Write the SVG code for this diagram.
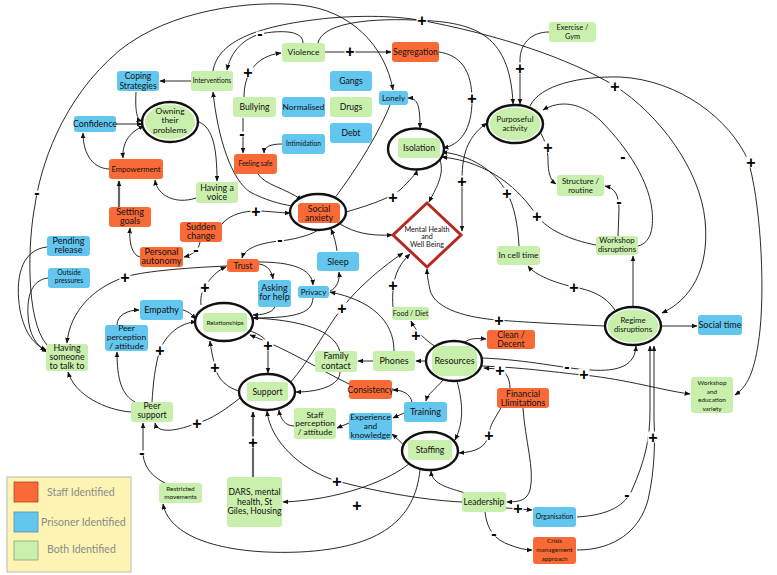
<svg xmlns="http://www.w3.org/2000/svg" width="777" height="575" viewBox="0 0 777 575">
<defs>
<marker id="ah" viewBox="0 0 10 10" refX="9" refY="5" markerWidth="6" markerHeight="6" markerUnits="userSpaceOnUse" orient="auto-start-reverse"><path d="M0,1 L10,5 L0,9 z" fill="#111"/></marker>
</defs>
<style>
.c{fill:none;stroke:#111;stroke-width:0.9;marker-end:url(#ah)}
.d{marker-start:url(#ah)}
.t{fill:none;stroke:#666;stroke-width:2.2;marker-end:url(#ah)}
.o{fill:#fa6a37}
.b{fill:#63c6ef}
.g{fill:#c9efac}
.ring{fill:#fff;stroke:#111;stroke-width:2.4}
.gap{fill:#fff}
text{font-family:Lato,"Open Sans","Liberation Sans",sans-serif;fill:#111;text-anchor:middle}
.s{font-family:"Liberation Sans",Arial,sans-serif;font-size:16px;font-weight:bold;fill:#000}
.lg{font-size:10.5px;fill:#8a8a8a;text-anchor:start}
</style>
<rect width="777" height="575" fill="#fff"/>
<g id="connectors">
<path class="c" d="M191,81 L160,81"/>
<path class="c" d="M136,92 C135,112 137,120 142,121"/>
<path class="c" d="M116,124 L142,124"/>
<path class="c d" d="M144,126 C128,132 122,145 123,158"/>
<path class="c" d="M109,169 C90,168 83,150 83,133"/>
<path class="c" d="M196,121 C212,125 217,145 217,181"/>
<path class="c" d="M196,198 C175,205 157,195 155,180"/>
<path class="t" d="M119,207 L119,181"/>
<path class="c" d="M140,257 C131,255 129,240 130,228"/>
<path class="c" d="M200,242 C199,250 192,255 184,257"/>
<path class="c" d="M222,224 C230,214 245,211 256,211 C270,211 280,213 290,213"/>
<path class="c" d="M292,206 C280,204 265,200 250,192 C232,180 218,140 213,92"/>
<path class="c" d="M258,174 C265,185 285,188 302,200"/>
<path class="c" d="M282,144 C270,144 264,147 264,153"/>
<path class="c" d="M243,118 L243,153"/>
<path class="c" d="M244,97 C244,75 255,56 281,53"/>
<path class="c" d="M325,52 L391,52"/>
<path class="c" d="M303,43 C303,30 280,30 260,34 C240,40 230,55 227,70"/>
<path class="c" d="M318,43 C322,25 360,18 415,20 C470,22 510,30 513,104"/>
<path class="c" d="M213,71 C218,40 260,25 330,18 C380,14 410,18 430,22 C520,40 580,65 615,86 C660,115 700,170 705,220 C710,270 690,300 662,313"/>
<path class="c" d="M549,32 C530,32 520,45 520,60 L520,104"/>
<path class="c" d="M47,345 C25,320 28,240 35,205 C40,170 60,100 120,50 C170,10 250,0 300,5 C350,10 385,45 393,90"/>
<path class="c" d="M390,105 C380,130 360,165 331,203"/>
<path class="c d" d="M408,98 C418,98 420,106 420,128"/>
<path class="c" d="M439,52 C460,55 472,70 472,100 C472,130 460,145 443,148"/>
<path class="c" d="M440,160 C445,175 435,190 429,202"/>
<path class="c" d="M346,212 C370,205 390,198 400,190 C410,180 416,174 417,170"/>
<path class="c" d="M340,224 C355,233 370,236 392,235"/>
<path class="c d" d="M487,123 C470,135 462,150 462,180 L462,231"/>
<path class="c" d="M540,132 C545,140 548,150 548,160 C548,172 550,180 556,184"/>
<path class="c" d="M618,236 L619,210 C619,195 615,188 605,186"/>
<path class="c" d="M638,246 C650,243 654,230 652,210 C648,175 620,140 600,120 C580,102 560,100 543,110"/>
<path class="c" d="M530,106 C540,85 580,76 620,77 C680,80 730,120 748,160 C760,200 765,280 760,330 C756,365 750,385 735,395"/>
<path class="c" d="M519,246 C518,225 514,205 507,193 C495,170 470,155 442,152"/>
<path class="c" d="M596,245 C570,240 548,230 537,216 C520,190 490,162 442,157"/>
<path class="c" d="M615,310 C605,295 590,290 574,287 C555,283 535,275 528,266"/>
<path class="c" d="M633,307 L633,256"/>
<path class="c" d="M661,326 L697,326"/>
<path class="c" d="M605,326 C560,324 520,322 498,320 C470,318 435,310 430,290 C428,280 427,275 427,269"/>
<path class="c" d="M482,358 C530,360 560,368 590,370 C620,372 635,365 636,346"/>
<path class="c" d="M482,366 C530,368 560,373 584,375 C630,380 660,390 690,394"/>
<path class="c" d="M510,388 C510,378 505,370 498,369 L484,368"/>
<path class="c" d="M462,346 C466,338 475,338 486,339"/>
<path class="c" d="M436,347 C425,340 415,330 411,321"/>
<path class="c" d="M393,307 C392,295 393,280 398,270 C402,262 406,258 410,254"/>
<path class="c" d="M426,361 L416,361"/>
<path class="c" d="M373,361 L358,361"/>
<path class="c" d="M394,351 C394,320 370,300 330,292"/>
<path class="c" d="M443,380 C435,390 428,393 426,401"/>
<path class="c" d="M457,381 C462,400 465,420 455,440"/>
<path class="c" d="M412,402 C410,394 403,390 393,390"/>
<path class="c" d="M404,413 L393,418"/>
<path class="c" d="M405,446 C400,442 397,438 392,434"/>
<path class="c" d="M349,423 L337,428"/>
<path class="c" d="M294,426 C285,426 280,418 279,410"/>
<path class="c" d="M501,408 C495,418 490,425 489,434 C486,448 475,452 459,453"/>
<path class="c" d="M523,408 C525,440 535,470 530,490 C527,500 520,502 507,502"/>
<path class="c" d="M465,493 C450,488 432,485 431,471"/>
<path class="c" d="M462,502 C420,500 370,490 337,481 C300,470 270,440 267,411"/>
<path class="c" d="M410,463 C390,480 340,500 283,502"/>
<path class="c" d="M420,470 C415,520 380,548 300,552 C230,555 170,540 163,504"/>
<path class="c" d="M165,483 C155,478 145,470 143,455 L143,423"/>
<path class="c" d="M240,398 C225,410 210,420 197,423 C180,430 158,435 155,423"/>
<path class="t" d="M253,477 L253,412"/>
<path class="c" d="M131,412 C105,410 75,395 68,372"/>
<path class="c" d="M135,402 C122,395 117,380 117,352"/>
<path class="c" d="M152,402 C153,385 155,365 160,350 C168,330 185,322 196,322"/>
<path class="c" d="M117,325 C117,315 128,310 139,310"/>
<path class="c" d="M183,310 C190,312 193,316 196,319"/>
<path class="c" d="M201,305 C200,295 203,290 205,287 C210,278 218,270 226,267"/>
<path class="c" d="M239,391 C228,388 218,380 215,367 C213,358 211,350 210,341"/>
<path class="c" d="M248,330 C262,335 267,340 268,345 L268,373"/>
<path class="c" d="M349,384 C320,370 290,350 250,335"/>
<path class="c" d="M253,318 C300,320 335,330 340,352 L340,372 C340,385 320,392 296,392"/>
<path class="c" d="M313,298 C312,312 300,318 253,318"/>
<path class="c" d="M275,307 C272,313 262,315 253,315"/>
<path class="c" d="M259,264 C268,265 272,272 273,279"/>
<path class="c" d="M259,262 C290,262 312,268 313,285"/>
<path class="c" d="M227,266 C180,268 140,272 125,277 C95,287 70,310 67,343"/>
<path class="c" d="M318,230 C310,236 290,240 280,241 C260,243 245,248 242,258"/>
<path class="c" d="M337,251 C336,243 334,236 331,229"/>
<path class="c" d="M330,291 C337,288 340,280 339,272"/>
<path class="c" d="M290,383 C310,360 325,330 342,308 C360,285 385,265 403,253"/>
<path class="c" d="M47,247 C20,250 15,280 20,310 C25,335 35,345 46,350"/>
<path class="c" d="M48,278 C32,280 27,295 28,315 C29,335 36,345 47,352"/>
<path class="c" d="M506,508 L532,510"/>
<path class="c" d="M485,512 C487,530 495,540 510,545 C518,548 525,550 532,550"/>
<path class="c" d="M577,517 C610,515 625,505 632,490 C645,460 650,440 650,410 L650,346"/>
<path class="c" d="M577,550 C615,550 640,530 648,500 C655,470 655,440 654,420 L654,346"/>
</g>
<g id="signs">
<rect class="gap" x="33" y="190.5" width="8" height="5"/><text class="s" x="37" y="197.6">-</text>
<rect class="gap" x="416.5" y="14.5" width="11" height="11"/><text class="s" x="422" y="25.6">+</text>
<rect class="gap" x="256" y="31.5" width="8" height="5"/><text class="s" x="260" y="38.6">-</text>
<rect class="gap" x="242.5" y="66.5" width="11" height="11"/><text class="s" x="248" y="77.6">+</text>
<rect class="gap" x="344.5" y="45.5" width="11" height="11"/><text class="s" x="350" y="56.6">+</text>
<rect class="gap" x="238" y="131.5" width="8" height="5"/><text class="s" x="242" y="138.6">-</text>
<rect class="gap" x="466.5" y="92.5" width="11" height="11"/><text class="s" x="472" y="103.6">+</text>
<rect class="gap" x="514.5" y="62.5" width="11" height="11"/><text class="s" x="520" y="73.6">+</text>
<rect class="gap" x="609.5" y="80.5" width="11" height="11"/><text class="s" x="615" y="91.6">+</text>
<rect class="gap" x="619" y="154.5" width="8" height="5"/><text class="s" x="623" y="161.6">-</text>
<rect class="gap" x="745.5" y="156.5" width="11" height="11"/><text class="s" x="751" y="167.6">+</text>
<rect class="gap" x="542.5" y="141.5" width="11" height="11"/><text class="s" x="548" y="152.6">+</text>
<rect class="gap" x="615" y="199.5" width="8" height="5"/><text class="s" x="619" y="206.6">-</text>
<rect class="gap" x="501.5" y="187.5" width="11" height="11"/><text class="s" x="507" y="198.6">+</text>
<rect class="gap" x="531.5" y="210.5" width="11" height="11"/><text class="s" x="537" y="221.6">+</text>
<rect class="gap" x="456.5" y="175.5" width="11" height="11"/><text class="s" x="462" y="186.6">+</text>
<rect class="gap" x="387.5" y="191.5" width="11" height="11"/><text class="s" x="393" y="202.6">+</text>
<rect class="gap" x="250.5" y="205.5" width="11" height="11"/><text class="s" x="256" y="216.6">+</text>
<rect class="gap" x="192" y="247.5" width="8" height="5"/><text class="s" x="196" y="254.6">-</text>
<rect class="gap" x="276" y="237.5" width="8" height="5"/><text class="s" x="280" y="244.6">-</text>
<rect class="gap" x="119.5" y="271.5" width="11" height="11"/><text class="s" x="125" y="282.6">+</text>
<rect class="gap" x="199.5" y="281.5" width="11" height="11"/><text class="s" x="205" y="292.6">+</text>
<rect class="gap" x="568.5" y="281.5" width="11" height="11"/><text class="s" x="574" y="292.6">+</text>
<rect class="gap" x="493.5" y="314.5" width="11" height="11"/><text class="s" x="499" y="325.6">+</text>
<rect class="gap" x="387.5" y="279.5" width="11" height="11"/><text class="s" x="393" y="290.6">+</text>
<rect class="gap" x="336.5" y="302.5" width="11" height="11"/><text class="s" x="342" y="313.6">+</text>
<rect class="gap" x="410.5" y="329.5" width="11" height="11"/><text class="s" x="416" y="340.6">+</text>
<rect class="gap" x="154.5" y="344.5" width="11" height="11"/><text class="s" x="160" y="355.6">+</text>
<rect class="gap" x="209.5" y="361.5" width="11" height="11"/><text class="s" x="215" y="372.6">+</text>
<rect class="gap" x="262.5" y="339.5" width="11" height="11"/><text class="s" x="268" y="350.6">+</text>
<rect class="gap" x="563" y="364.5" width="8" height="5"/><text class="s" x="567" y="371.6">-</text>
<rect class="gap" x="578.5" y="368.5" width="11" height="11"/><text class="s" x="584" y="379.6">+</text>
<rect class="gap" x="494.5" y="364.5" width="11" height="11"/><text class="s" x="500" y="375.6">+</text>
<rect class="gap" x="483.5" y="429.5" width="11" height="11"/><text class="s" x="489" y="440.6">+</text>
<rect class="gap" x="191.5" y="417.5" width="11" height="11"/><text class="s" x="197" y="428.6">+</text>
<rect class="gap" x="138" y="450.5" width="8" height="5"/><text class="s" x="142" y="457.6">-</text>
<rect class="gap" x="247.5" y="436.5" width="11" height="11"/><text class="s" x="253" y="447.6">+</text>
<rect class="gap" x="331.5" y="475.5" width="11" height="11"/><text class="s" x="337" y="486.6">+</text>
<rect class="gap" x="351.5" y="499.5" width="11" height="11"/><text class="s" x="357" y="510.6">+</text>
<rect class="gap" x="512.5" y="502.5" width="11" height="11"/><text class="s" x="518" y="513.6">+</text>
<rect class="gap" x="490" y="531.5" width="8" height="5"/><text class="s" x="494" y="538.6">-</text>
<rect class="gap" x="623" y="492.5" width="8" height="5"/><text class="s" x="627" y="499.6">-</text>
<rect class="gap" x="647.5" y="431.5" width="11" height="11"/><text class="s" x="653" y="442.6">+</text>
</g>
<g id="n-coping"><rect class="b" x="117" y="71" width="42" height="20" rx="3"/><text font-size="8.6" x="138"><tspan y="79.3">Coping</tspan><tspan x="138" y="88.5">Strategies</tspan></text></g>
<g id="n-interventions"><rect class="g" x="191" y="71" width="42" height="20" rx="3"/><text font-size="6.6" x="212" y="83.3">Interventions</text></g>
<g id="n-violence"><rect class="g" x="282" y="43" width="43" height="19" rx="3"/><text font-size="8.4" x="303.5" y="55.4">Violence</text></g>
<g id="n-segregation"><rect class="o" x="392" y="42" width="47" height="20" rx="3"/><text font-size="8.6" x="415.5" y="55">Segregation</text></g>
<g id="n-exercise"><rect class="g" x="549" y="22" width="47" height="20" rx="3"/><text font-size="7.4" x="572.5"><tspan y="30">Exercise /</tspan><tspan x="572.5" y="38.8">Gym</tspan></text></g>
<g id="n-bullying"><rect class="g" x="233" y="97" width="43" height="20" rx="3"/><text font-size="8.6" x="254.5" y="110">Bullying</text></g>
<g id="n-normalised"><rect class="b" x="282" y="97" width="43" height="20" rx="3"/><text font-size="8.4" x="303.5" y="110">Normalised</text></g>
<g id="n-gangs"><rect class="b" x="330" y="71" width="42" height="20" rx="3"/><text font-size="8.6" x="351" y="84">Gangs</text></g>
<g id="n-drugs"><rect class="g" x="330" y="97" width="42" height="20" rx="3"/><text font-size="8.6" x="351" y="110">Drugs</text></g>
<g id="n-debt"><rect class="b" x="330" y="123" width="42" height="20" rx="3"/><text font-size="8.6" x="351" y="136">Debt</text></g>
<g id="n-lonely"><rect class="b" x="379" y="91" width="29" height="14" rx="3"/><text font-size="8" x="393.5" y="100.8">Lonely</text></g>
<g id="n-intimidation"><rect class="b" x="282" y="134" width="43" height="20" rx="3"/><text font-size="6.6" x="303.5" y="146.3">Intimidation</text></g>
<g id="n-feelingsafe"><rect class="o" x="234" y="154" width="43" height="20" rx="3"/><text font-size="6.6" x="255.5" y="166.3">Feeling safe</text></g>
<g id="n-confidence"><rect class="b" x="74" y="116" width="42" height="16" rx="3"/><text font-size="8.8" x="95" y="127">Confidence</text></g>
<g id="n-owning"><ellipse class="ring" cx="170" cy="122" rx="28" ry="20"/><ellipse class="g" cx="170" cy="122" rx="25" ry="17.5"/><text font-size="8.4" x="170"><tspan y="113.8">Owning</tspan><tspan x="170" y="123.3">their</tspan><tspan x="170" y="132.8">problems</tspan></text></g>
<g id="n-empowerment"><rect class="o" x="109" y="159" width="54" height="20" rx="3"/><text font-size="7.6" x="136" y="171.6">Empowerment</text></g>
<g id="n-havingvoice"><rect class="g" x="196" y="182" width="42" height="21" rx="3"/><text font-size="8.8" x="217"><tspan y="190.5">Having a</tspan><tspan x="217" y="200.3">voice</tspan></text></g>
<g id="n-isolation"><ellipse class="ring" cx="416" cy="149" rx="28" ry="20.5"/><rect class="g" x="398" y="138" width="42" height="20" rx="3"/><text font-size="8.6" x="419" y="151">Isolation</text></g>
<g id="n-purposeful"><ellipse class="ring" cx="515" cy="124" rx="28" ry="19"/><ellipse class="g" cx="515" cy="124" rx="25.5" ry="16.5"/><text font-size="7.8" x="515"><tspan y="122.2">Purposeful</tspan><tspan x="515" y="130.9">activity</tspan></text></g>
<g id="n-structure"><rect class="g" x="557" y="175" width="47" height="21" rx="3"/><text font-size="7.8" x="580.5"><tspan y="183.8">Structure /</tspan><tspan x="580.5" y="192.6">routine</tspan></text></g>
<g id="n-socialanxiety"><ellipse class="ring" cx="318" cy="212" rx="28" ry="18"/><rect class="o" x="298" y="203" width="42" height="20" rx="3"/><text font-size="8.8" x="319"><tspan y="211.8">Social</tspan><tspan x="319" y="221">anxiety</tspan></text></g>
<g id="n-mentalhealth"><polygon points="427,203 461,235 427,267 393,235" fill="#fff" stroke="#b42a22" stroke-width="3" stroke-linejoin="miter"/><text font-size="7.2" x="427"><tspan y="232">Mental Health</tspan><tspan x="427" y="239.3">and</tspan><tspan x="427" y="246.6">Well Being</tspan></text></g>
<g id="n-settinggoals"><rect class="o" x="109" y="207" width="42" height="20" rx="3"/><text font-size="9" x="130"><tspan y="214.6">Setting</tspan><tspan x="130" y="224">goals</tspan></text></g>
<g id="n-suddenchange"><rect class="o" x="180" y="222" width="42" height="20" rx="3"/><text font-size="9" x="201"><tspan y="229.6">Sudden</tspan><tspan x="201" y="238.8">change</tspan></text></g>
<g id="n-autonomy"><rect class="o" x="140" y="247" width="43" height="20" rx="3"/><text font-size="9" x="161.5"><tspan y="254.6">Personal</tspan><tspan x="161.5" y="263.8">autonomy</tspan></text></g>
<g id="n-pending"><rect class="b" x="47" y="236" width="43" height="20" rx="3"/><text font-size="9" x="68.5"><tspan y="243.8">Pending</tspan><tspan x="68.5" y="253">release</tspan></text></g>
<g id="n-outside"><rect class="b" x="48" y="268" width="42" height="20" rx="3"/><text font-size="6.8" x="69"><tspan y="275">Outside</tspan><tspan x="69" y="283.2">pressures</tspan></text></g>
<g id="n-trust"><rect class="o" x="227" y="259" width="32" height="13" rx="3"/><text font-size="8.6" x="243" y="268.5">Trust</text></g>
<g id="n-sleep"><rect class="b" x="317" y="252" width="42" height="19" rx="3"/><text font-size="9" x="338" y="264.6">Sleep</text></g>
<g id="n-asking"><rect class="b" x="258" y="280" width="33" height="27" rx="3"/><text font-size="9" x="274.5"><tspan y="291.2">Asking</tspan><tspan x="274.5" y="300.3">for help</tspan></text></g>
<g id="n-privacy"><rect class="b" x="298" y="286" width="31" height="12" rx="3"/><text font-size="8" x="313.5" y="294.8">Privacy</text></g>
<g id="n-incell"><rect class="g" x="497" y="246" width="43" height="19" rx="3"/><text font-size="8.4" x="518.5" y="258.4">In cell time</text></g>
<g id="n-workshopdis"><rect class="g" x="596" y="236" width="42" height="19" rx="3"/><text font-size="7.8" x="617"><tspan y="243.4">Workshop</tspan><tspan x="617" y="252.4">disruptions</tspan></text></g>
<g id="n-empathy"><rect class="b" x="140" y="300" width="43" height="20" rx="3"/><text font-size="9" x="161.5" y="313.1">Empathy</text></g>
<g id="n-relationships"><ellipse class="ring" cx="224" cy="322" rx="29" ry="19"/><rect class="g" x="203" y="313" width="44" height="19" rx="3"/><text font-size="6.4" x="225" y="324.7">Relationships</text></g>
<g id="n-peerperception"><rect class="b" x="105" y="325" width="43" height="26" rx="3"/><text font-size="8.4" x="126.5"><tspan y="331.2">Peer</tspan><tspan x="126.5" y="339.9">perception</tspan><tspan x="126.5" y="348.6">/ attitude</tspan></text></g>
<g id="n-havingsomeone"><rect class="g" x="46" y="344" width="42" height="27" rx="3"/><text font-size="8.8" x="67"><tspan y="351">Having</tspan><tspan x="67" y="360">someone</tspan><tspan x="67" y="369">to talk to</tspan></text></g>
<g id="n-food"><rect class="g" x="392" y="307" width="37" height="13" rx="3"/><text font-size="7" x="410.5" y="316">Food / Diet</text></g>
<g id="n-regime"><ellipse class="ring" cx="633" cy="326" rx="28" ry="19"/><ellipse class="g" cx="633" cy="326" rx="25.5" ry="16.5"/><text font-size="7.8" x="633"><tspan y="323.2">Regime</tspan><tspan x="633" y="332.2">disruptions</tspan></text></g>
<g id="n-socialtime"><rect class="b" x="698" y="315" width="44" height="20" rx="3"/><text font-size="9" x="720" y="328.1">Social time</text></g>
<g id="n-clean"><rect class="o" x="487" y="330" width="48" height="19" rx="3"/><text font-size="8.6" x="511"><tspan y="337.6">Clean /</tspan><tspan x="511" y="346.6">Decent</tspan></text></g>
<g id="n-family"><rect class="g" x="315" y="351" width="42" height="21" rx="3"/><text font-size="9" x="336"><tspan y="359.3">Family</tspan><tspan x="336" y="368.7">contact</tspan></text></g>
<g id="n-phones"><rect class="g" x="373" y="351" width="42" height="20" rx="3"/><text font-size="9" x="394" y="364.1">Phones</text></g>
<g id="n-resources"><ellipse class="ring" cx="454" cy="361" rx="28" ry="20"/><rect class="g" x="432" y="346" width="45" height="30" rx="9"/><text font-size="9" x="454.5" y="364.1">Resources</text></g>
<g id="n-consistency"><rect class="o" x="349" y="380" width="43" height="19" rx="3"/><text font-size="8.6" x="370.5" y="392.5">Consistency</text></g>
<g id="n-support"><ellipse class="ring" cx="267" cy="392" rx="28" ry="18"/><rect class="g" x="247" y="382" width="41" height="19" rx="3"/><text font-size="8.6" x="267.5" y="395">Support</text></g>
<g id="n-financial"><rect class="o" x="497" y="388" width="52" height="20" rx="3"/><text font-size="8.8" x="523"><tspan y="396.5">Financial</tspan><tspan x="523" y="405.8">Llimitations</tspan></text></g>
<g id="n-wsedu"><rect class="g" x="691" y="377" width="42" height="36" rx="3"/><text font-size="6.4" x="712"><tspan y="385.4">Workshop</tspan><tspan x="712" y="393.8">and</tspan><tspan x="712" y="402.2">education</tspan><tspan x="712" y="410.8">variety</tspan></text></g>
<g id="n-training"><rect class="b" x="404" y="402" width="43" height="20" rx="3"/><text font-size="9" x="425.5" y="415.1">Training</text></g>
<g id="n-peersupport"><rect class="g" x="131" y="402" width="42" height="20" rx="3"/><text font-size="8.6" x="152"><tspan y="409.4">Peer</tspan><tspan x="152" y="418.2">support</tspan></text></g>
<g id="n-staffperc"><rect class="g" x="294" y="408" width="42" height="31" rx="3"/><text font-size="8.4" x="315"><tspan y="417.6">Staff</tspan><tspan x="315" y="426.4">perception</tspan><tspan x="315" y="435.2">/ attitude</tspan></text></g>
<g id="n-experience"><rect class="b" x="349" y="413" width="43" height="27" rx="3"/><text font-size="8.4" x="370.5"><tspan y="420.3">Experience</tspan><tspan x="370.5" y="429.1">and</tspan><tspan x="370.5" y="437.9">knowledge</tspan></text></g>
<g id="n-staffing"><ellipse class="ring" cx="430" cy="451" rx="28" ry="19"/><rect class="g" x="408" y="440" width="44" height="20" rx="3"/><text font-size="8.6" x="430" y="453">Staffing</text></g>
<g id="n-restricted"><rect class="g" x="159" y="483" width="43" height="20" rx="3"/><text font-size="6.4" x="180.5"><tspan y="490.6">Restricted</tspan><tspan x="180.5" y="499.4">movements</tspan></text></g>
<g id="n-dars"><rect class="g" x="227" y="477" width="55" height="50" rx="3"/><text font-size="8.6" x="254.5"><tspan y="495">DARS, mental</tspan><tspan x="254.5" y="504.6">health, St</tspan><tspan x="254.5" y="514.2">Giles, Housing</tspan></text></g>
<g id="n-leadership"><rect class="g" x="462" y="492" width="44" height="20" rx="3"/><text font-size="8.6" x="484" y="505">Leadership</text></g>
<g id="n-organisation"><rect class="b" x="533" y="507" width="43" height="20" rx="3"/><text font-size="6.7" x="554.5" y="519.4">Organisation</text></g>
<g id="n-crisis"><rect class="o" x="533" y="537" width="43" height="27" rx="3"/><text font-size="6.4" x="554.5"><tspan y="543.3">Crisis</tspan><tspan x="554.5" y="552">management</tspan><tspan x="554.5" y="560.6">approach</tspan></text></g>
<g id="legend">
<rect x="7" y="477" width="124" height="95" fill="#fdf4b4" stroke="#b8b8b8" stroke-width="1"/>
<rect x="14" y="482" width="24" height="20" fill="#fa6a37" stroke="#b0442a" stroke-width="0.8"/>
<rect x="14" y="512" width="24" height="20" fill="#63c6ef" stroke="#5a8fa8" stroke-width="0.8"/>
<rect x="14" y="541" width="24" height="19" fill="#c9efac" stroke="#8aa67a" stroke-width="0.8"/>
<text class="lg" x="47" y="496">Staff Identified</text>
<text class="lg" x="41" y="526">Prisoner Identified</text>
<text class="lg" x="47" y="553">Both Identified</text>
</g>
</svg>
